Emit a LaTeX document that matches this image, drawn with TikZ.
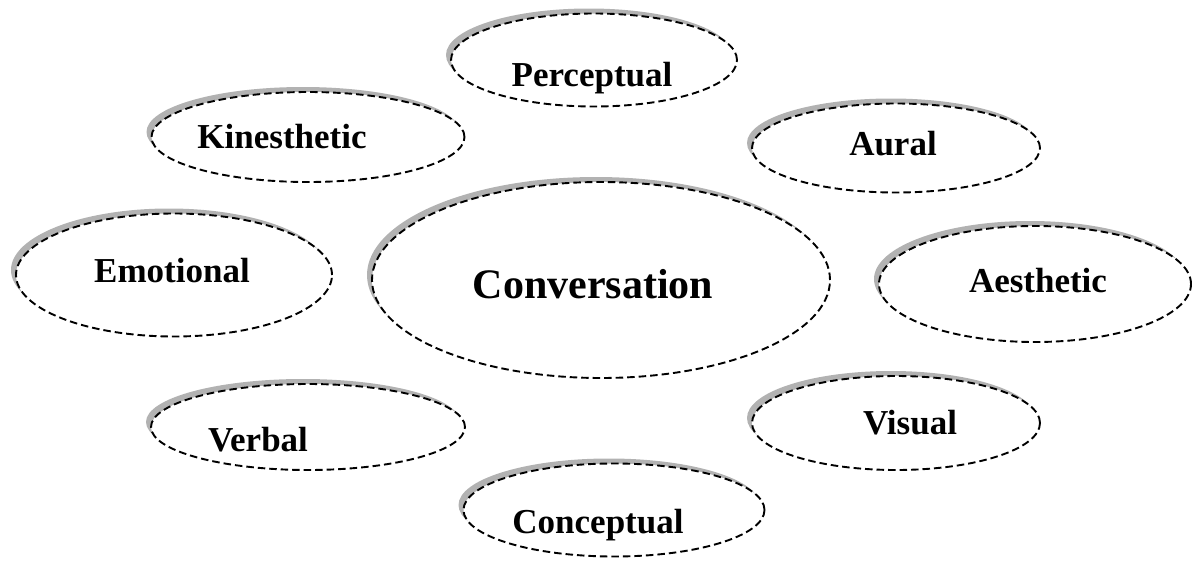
\documentclass[tikz,border=0pt]{standalone}
\usepackage{fontspec}
\setmainfont{Liberation Serif}
\usetikzlibrary{calc,shapes.geometric,shadows}

\begin{document}
\begin{tikzpicture}[x=1pt,y=-1pt,
  bubble/.style={ellipse,draw,line width=1.9pt,dash pattern=on 7.5pt off 4pt,fill=white,inner sep=0pt,
    general shadow={shadow xshift=-5pt,shadow yshift=5pt,fill=gray!60}},
  word/.style={anchor=base,font=\fontsize{35}{40}\selectfont\bfseries}]
\useasboundingbox (0,0) rectangle (1192,560);
% outer ring of bubbles
\node[bubble,minimum width=286,minimum height=93] (perc) at (594,60) {};
\node[bubble,minimum width=313,minimum height=90] (kin) at (308,137) {};
\node[bubble,minimum width=288,minimum height=89] (aur) at (896,148) {};
\node[bubble,minimum width=316,minimum height=123] (emo) at (174,275) {};
\node[bubble,minimum width=312,minimum height=116] (aes) at (1035,284) {};
\node[bubble,minimum width=314,minimum height=86] (verb) at (308,427) {};
\node[bubble,minimum width=288,minimum height=94] (vis) at (896,423) {};
\node[bubble,minimum width=301,minimum height=93] (conc) at (614,510) {};
% centre
\node[bubble,minimum width=458,minimum height=196] (conv) at (601,280) {};
% labels
\node[word] (perc-t) at ($(perc)+(-2,26)$) {Perceptual};
\node[word] (kin-t) at ($(kin)+(-26,11)$) {Kinesthetic};
\node[word] (aur-t) at ($(aur)+(-3,7)$) {Aural};
\node[word] (emo-t) at ($(emo)+(-2,7)$) {Emotional};
\node[word] (aes-t) at ($(aes)+(3,8)$) {Aesthetic};
\node[word] (verb-t) at ($(verb)+(-50,24)$) {Verbal};
\node[word] (vis-t) at ($(vis)+(14,11)$) {Visual};
\node[word] (conc-t) at ($(conc)+(-16,23)$) {Conceptual};
\node[word,font=\fontsize{42}{48}\selectfont\bfseries] (conv-t) at ($(conv)+(-8,18)$) {Conversation};
\end{tikzpicture}
\end{document}
